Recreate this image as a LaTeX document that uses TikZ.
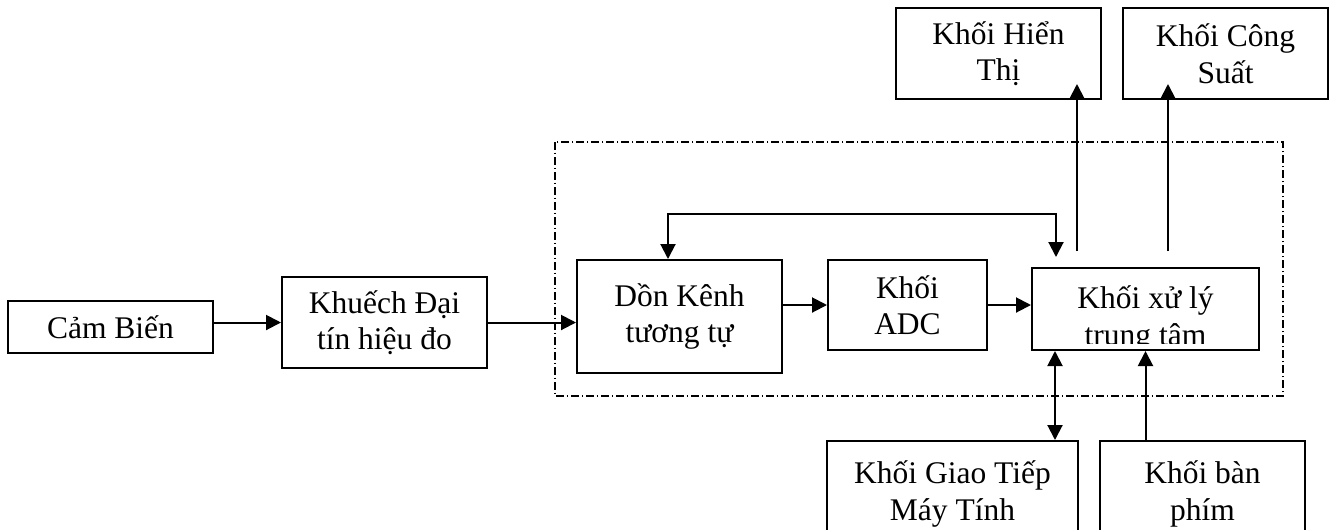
\documentclass[tikz,border=0pt]{standalone}
\usepackage{fontspec}
\setmainfont{Liberation Serif}
\usetikzlibrary{arrows.meta, positioning, calc}

\begin{document}
\begin{tikzpicture}[
  x=0.4pt, y=-0.4pt,
  blk/.style={rectangle, draw=black, line width=0.8pt, align=center, inner sep=0pt,
              font=\fontsize{12.6}{14.6}\selectfont},
  txt/.style={align=center, inner sep=0pt, font=\fontsize{12.6}{14.6}\selectfont},
  arr/.style={-{Triangle[length=6pt, width=6pt]}, line width=0.8pt},
  biarr/.style={{Triangle[length=6pt, width=6pt]}-{Triangle[length=6pt, width=6pt]}, line width=0.8pt},
  grp/.style={line width=0.6pt, dash pattern=on 3pt off 1.2pt on 0.6pt off 1.2pt}
]
\useasboundingbox (0,0) rectangle (1335,529);

% Input chain
\node[blk, minimum width=82pt, minimum height=20.8pt] (cambien) at (110.5,327) {Cảm Biến};
\node[blk, minimum width=82pt, minimum height=36.4pt] (khuechdai) at (384.5,322.5) {Khuếch Đại\\tín hiệu đo};

% Processing group
\draw[grp] (555,142) rectangle (1283,396);
\node[blk, minimum width=82pt, minimum height=45.2pt] (donkenh) at (679.5,316.5) {Dồn Kênh\\tương tự};
\node[blk, minimum width=63.6pt, minimum height=36pt] (adc) at (907.5,305) {Khối\\ADC};
\node[blk, minimum width=90.8pt, minimum height=32.8pt] (xuly) at (1145.5,309) {};
\begin{scope}
  \clip ([shift={(1,-8)}]xuly.south west) rectangle ([shift={(-1,1)}]xuly.north east);
  \node[txt] (xulytext) at ([yshift=-4pt]xuly.center) {Khối xử lý\\trung tâm};
\end{scope}

% Output and peripheral blocks
\node[blk, minimum width=82pt, minimum height=36.4pt] (hienthi) at (998.5,53.5) {Khối Hiển\\Thị};
\node[blk, minimum width=82pt, minimum height=36.4pt] (congsuat) at (1225.5,53.5) {Khối Công\\Suất};
\node[blk, minimum width=100.4pt, minimum height=42.4pt] (giaotiep) at (952.5,494) {Khối Giao Tiếp\\Máy Tính};
\node[blk, minimum width=82pt, minimum height=42.4pt] (banphim) at (1202.5,494) {Khối bàn\\phím};

% Signal path
\draw[arr] (cambien.east |- khuechdai.west) -- (khuechdai.west);
\draw[arr] (khuechdai.east) -- (khuechdai.east -| donkenh.west);
\draw[arr] (donkenh.east |- adc.west) -- (adc.west);
\draw[arr] (adc.east) -- (adc.east -| xuly.west);

% Control loop and outputs
\draw[biarr] ([shift={(-11.5,0)}]donkenh.north) |- ([shift={(25,-53)}]xuly.north west) -- ([shift={(25,-10)}]xuly.north west);
\draw[arr] ([shift={(46,-16)}]xuly.north west) -- ([shift={(46,-16)}]xuly.north west |- hienthi.south);
\draw[arr] ([shift={(137,-16)}]xuly.north west) -- ([shift={(137,-16)}]xuly.north west |- congsuat.south);
\draw[biarr] ([shift={(24,0)}]xuly.south west) -- ([shift={(24,0)}]xuly.south west |- giaotiep.north);
\draw[arr] (xuly.south |- banphim.north) -- (xuly.south);

\end{tikzpicture}
\end{document}
